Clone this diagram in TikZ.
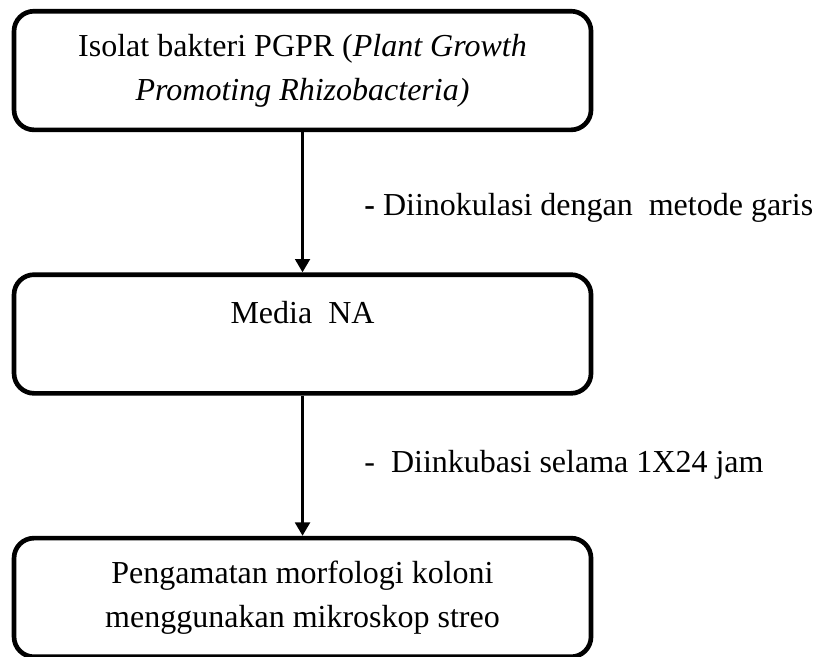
\documentclass[tikz,border=0pt]{standalone}
\usepackage{fontspec}
\setmainfont{Liberation Serif}
\usetikzlibrary{arrows.meta}

\begin{document}
\begin{tikzpicture}[
    node distance=197.6pt,
    box/.style={rectangle, draw, line width=3.5pt, rounded corners=15pt, minimum width=432.75pt, minimum height=89pt, align=center, font=\fontsize{24}{33}\selectfont},
    arrow/.style={-{Triangle[width=11pt,length=10pt]}, line width=2.2pt},
    note/.style={right, xshift=42pt, font=\fontsize{24}{33}\selectfont}
]
\useasboundingbox (0,0) rectangle (624.75pt,-492.75pt);

% Isolat
\node[box] (isolat) at (226.9pt,-52.9pt) {Isolat bakteri PGPR (\textit{Plant Growth}\\ \textit{Promoting Rhizobacteria)}};

% Media
\node[box, below of=isolat] (media) {Media\ \ NA\\ \mbox{}};

% Pengamatan
\node[box, below of=media] (pengamatan) {Pengamatan morfologi koloni\\ menggunakan mikroskop streo};

% Arrows
\draw[arrow] (isolat) -- (media) node[midway, note, yshift=-4pt] {\textbf{-} Diinokulasi dengan\ \ metode garis};
\draw[arrow] (media) -- (pengamatan) node[midway, note, yshift=1pt] {-\ \ Diinkubasi selama 1X24 jam};

\end{tikzpicture}
\end{document}
